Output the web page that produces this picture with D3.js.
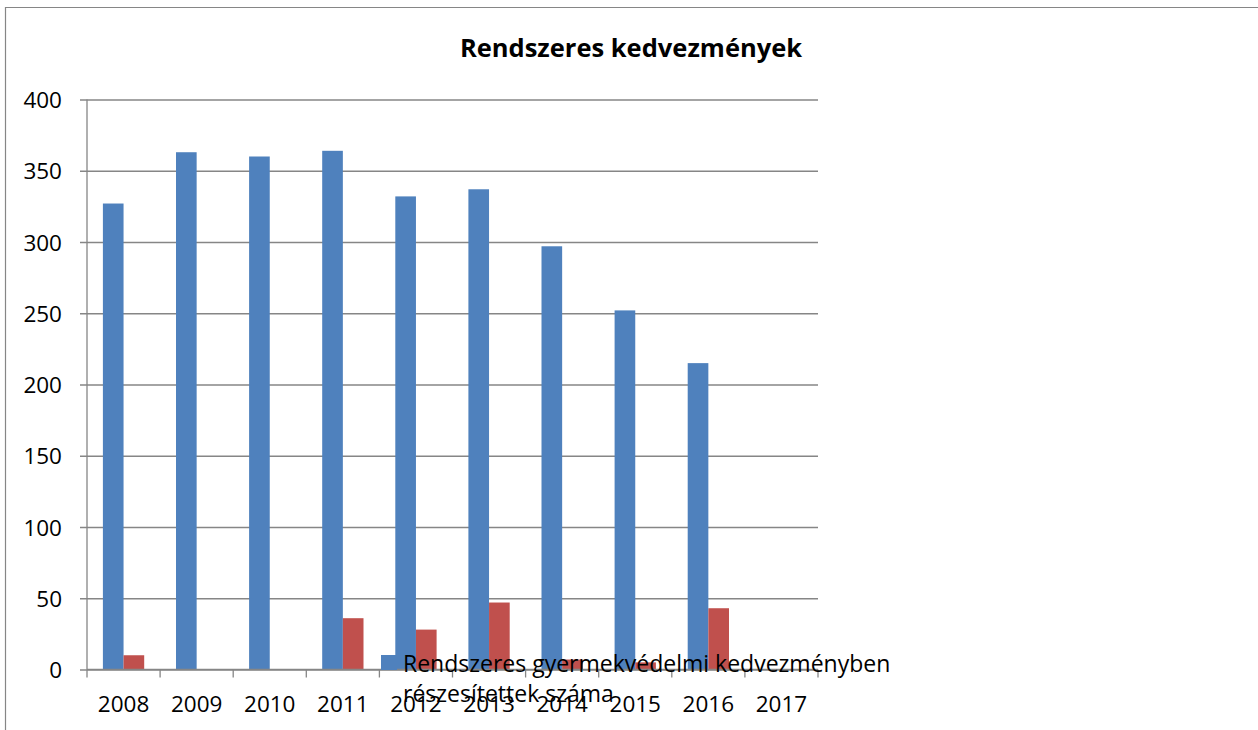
<!DOCTYPE html>
<html>
<head>
<meta charset="utf-8">
<script src="https://cdn.jsdelivr.net/npm/d3@7"></script>
<style>
  body { margin: 0; background: #fff; }
  text { font-family: "Open Sans", Lato, sans-serif; fill: #000; }
</style>
</head>
<body>
<div class="chart"></div>
<script>
const years = ["2008", "2009", "2010", "2011", "2012", "2013", "2014", "2015", "2016", "2017"];
const blueValues = [327, 363, 360, 364, 332, 337, 297, 252, 215, 0];
const redValues = [10, 0, 0, 36, 28, 47, 7, 5, 43, 0];
const yTicks = [0, 50, 100, 150, 200, 250, 300, 350, 400];
const chartTitle = "Rendszeres kedvezmények";
const legendLines = ["Rendszeres gyermekvédelmi kedvezményben", "részesítettek száma"];

const width = 1258;
const height = 730;
const plot = { left: 87, right: 818, top: 99.5, bottom: 669.5 };
const gray = "#868686";

const svg = d3
  .select(".chart")
  .append("svg")
  .attr("width", width)
  .attr("height", height);

// chart frame (only top and left edge are inside the picture)
svg.append("path")
  .attr("d", `M5.5,${height} V7.5 H${width}`)
  .attr("fill", "none")
  .attr("stroke", gray)
  .attr("stroke-width", 1.2);

const x = d3.scaleBand()
  .domain(years)
  .range([plot.left, plot.right]);

const inner = d3.scaleBand()
  .domain(["blue", "red"])
  .range([0, x.bandwidth()])
  .paddingOuter(0.77)
  .paddingInner(0);

const y = d3.scaleLinear()
  .domain([0, 400])
  .range([plot.bottom, plot.top]);

// gridlines + y labels
svg.append("g")
  .attr("transform", `translate(${plot.left - 7},0)`)
  .call(d3.axisLeft(y).tickValues(yTicks).tickSize(0))
  .call(g => g.select(".domain").remove())
  .call(g => g.selectAll(".tick line")
    .attr("x1", 0)
    .attr("x2", plot.right - plot.left + 7)
    .attr("stroke", gray)
    .attr("stroke-width", 1.3))
  .call(g => g.selectAll(".tick text")
    .attr("x", -18)
    .attr("dy", "0.36em")
    .style("font-size", "22.5px"));

// y axis line
svg.append("line")
  .attr("x1", plot.left).attr("x2", plot.left)
  .attr("y1", plot.top).attr("y2", plot.bottom)
  .attr("stroke", gray)
  .attr("stroke-width", 1.3);

// bars
const groups = svg.append("g")
  .selectAll("g")
  .data(years)
  .enter()
  .append("g")
  .attr("transform", d => `translate(${x(d)},0)`);

groups.append("rect")
  .attr("x", inner("blue"))
  .attr("width", inner.bandwidth())
  .attr("y", (d, i) => y(blueValues[i]))
  .attr("height", (d, i) => y(0) - y(blueValues[i]))
  .attr("fill", "#4F81BD");

groups.append("rect")
  .attr("x", inner("red"))
  .attr("width", inner.bandwidth())
  .attr("y", (d, i) => y(redValues[i]))
  .attr("height", (d, i) => y(0) - y(redValues[i]))
  .attr("fill", "#C0504D");

// x axis with ticks between the categories
const boundaries = years.map(d => x(d)).concat([plot.right]);
svg.append("line")
  .attr("x1", plot.left).attr("x2", plot.right)
  .attr("y1", plot.bottom).attr("y2", plot.bottom)
  .attr("stroke", gray)
  .attr("stroke-width", 1.3);

svg.append("g")
  .selectAll("line")
  .data(boundaries)
  .enter()
  .append("line")
  .attr("x1", d => d).attr("x2", d => d)
  .attr("y1", plot.bottom).attr("y2", plot.bottom + 8)
  .attr("stroke", gray)
  .attr("stroke-width", 1.3);

svg.append("g")
  .selectAll("text")
  .data(years)
  .enter()
  .append("text")
  .attr("x", d => x(d) + x.bandwidth() / 2)
  .attr("y", 712)
  .attr("text-anchor", "middle")
  .style("font-size", "22.5px")
  .text(d => d);

// title
svg.append("text")
  .attr("x", 631)
  .attr("y", 57)
  .attr("text-anchor", "middle")
  .style("font-size", "25.5px")
  .style("font-weight", "bold")
  .text(chartTitle);

// legend, sitting on top of the axis like in the original
svg.append("rect")
  .attr("x", 381)
  .attr("y", 655)
  .attr("width", 16)
  .attr("height", 15)
  .attr("fill", "#4F81BD");

svg.append("g")
  .selectAll("text")
  .data(legendLines)
  .enter()
  .append("text")
  .attr("x", 403)
  .attr("y", (d, i) => 672 + i * 30)
  .style("font-size", "23px")
  .text(d => d);
</script>
</body>
</html>
